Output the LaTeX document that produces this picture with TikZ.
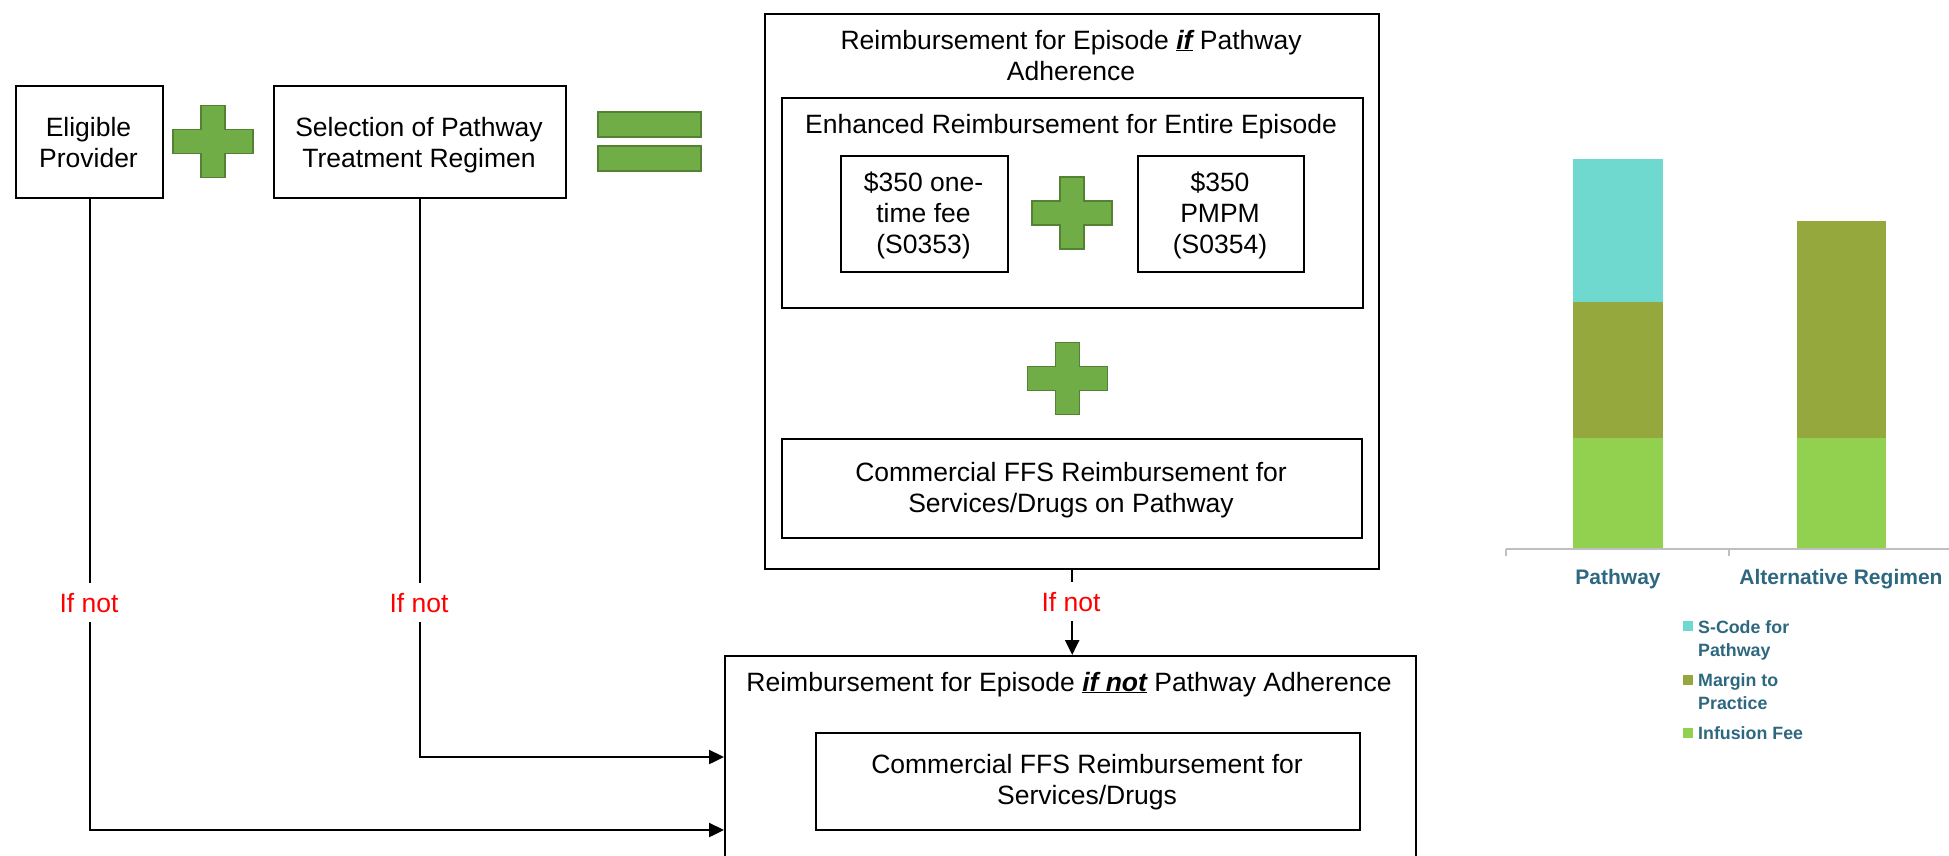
\documentclass[tikz,border=0pt]{standalone}
\usepackage{fontspec}
\setmainfont{Liberation Sans}
\usetikzlibrary{arrows.meta}
\definecolor{plusfill}{RGB}{112,173,71}
\definecolor{plusline}{RGB}{84,130,53}
\definecolor{barcyan}{RGB}{111,216,207}
\definecolor{barolive}{RGB}{149,168,61}
\definecolor{bargreen}{RGB}{146,208,80}
\definecolor{charttext}{RGB}{46,104,128}
\definecolor{axisgray}{RGB}{191,191,191}
\definecolor{ifred}{RGB}{255,0,0}
\newcommand\mainsize{\fontsize{26.5}{31}\selectfont}
\newcommand\chartsize{\fontsize{21}{25}\selectfont\bfseries}
\newcommand\legsize{\fontsize{17.8}{23}\selectfont\bfseries}
\newcommand\stack[1]{\begin{tabular}[t]{@{}c@{}}#1\end{tabular}}
\newcommand\lstack[1]{\begin{tabular}[t]{@{}l@{}}#1\end{tabular}}
\tikzset{
  box/.style={draw, line width=2.4pt, inner sep=0pt, anchor=north west},
  lbl/.style={font=\mainsize, anchor=base, inner sep=0pt},
  ifnot/.style={font=\mainsize, text=ifred, fill=white, anchor=base, inner xsep=4pt, inner ysep=10pt},
  conn/.style={line width=2.4pt, -{Triangle[length=15pt,width=14pt]}},
  plussign/.pic={\filldraw[fill=plusfill, draw=plusline, line width=1.5pt]
     (-12,-36) -- (12,-36) -- (12,-12) -- (40,-12) -- (40,12) -- (12,12) -- (12,36)
     -- (-12,36) -- (-12,12) -- (-40,12) -- (-40,-12) -- (-12,-12) -- cycle;},
  eqbar/.style={fill=plusfill, draw=plusline, line width=1.5pt},
  chartlbl/.style={font=\chartsize, text=charttext, anchor=base, inner sep=0pt},
  legtxt/.style={font=\legsize, text=charttext, anchor=base west, inner sep=0pt},
}
\begin{document}
\begin{tikzpicture}[x=1pt,y=-1pt]
\useasboundingbox (0,0) rectangle (1949,855);
\clip (0,0) rectangle (1949,855);

% left boxes
\node[box, minimum width=147pt, minimum height=112pt] (elig) at (15,85) {};
\node[lbl] (eligt) at (88.5,136) {\stack{Eligible\\Provider}};
\node[box, minimum width=292pt, minimum height=112pt] (sel) at (273,85) {};
\node[lbl] (selt) at (419,136) {\stack{Selection of Pathway\\Treatment Regimen}};
\pic at (213,141.5) {plussign};
\draw[eqbar] (598,112) rectangle (701,137);
\draw[eqbar] (598,146) rectangle (701,171);

% top right big box
\node[box, minimum width=614pt, minimum height=555pt] (top) at (764,13) {};
\node[lbl] (toptitle) at (1071,49) {\stack{Reimbursement for Episode \textbf{\textit{\underline{if}}} Pathway\\Adherence}};
\node[box, minimum width=581pt, minimum height=210pt] (enh) at (781,97) {};
\node[lbl] (enhtitle) at (1071,133) {Enhanced Reimbursement for Entire Episode};
\node[box, minimum width=167pt, minimum height=116pt] (fee1) at (840,155) {};
\node[lbl] (fee1t) at (923.5,191) {\stack{\$350 one-\\time fee\\(S0353)}};
\node[box, minimum width=166pt, minimum height=116pt] (fee2) at (1137,155) {};
\node[lbl] (fee2t) at (1220,191) {\stack{\$350\\PMPM\\(S0354)}};
\pic at (1072,213) {plussign};
\pic at (1067.5,378.5) {plussign};
\node[box, minimum width=580pt, minimum height=99pt] (ffs1) at (781,438) {};
\node[lbl] (ffs1t) at (1071,481) {\stack{Commercial FFS Reimbursement for\\Services/Drugs on Pathway}};

% bottom box
\node[box, minimum width=691pt, minimum height=240pt] (bot) at (724,655) {};
\node[lbl] (bottitle) at (1069,691) {Reimbursement for Episode \textbf{\textit{\underline{if not}}} Pathway Adherence};
\node[box, minimum width=544pt, minimum height=97pt] (ffs2) at (815,732) {};
\node[lbl] (ffs2t) at (1087,773) {\stack{Commercial FFS Reimbursement for\\Services/Drugs}};

% connectors
\coordinate (rowA) at (0,757);
\coordinate (rowB) at (0,830);
\draw[conn] (sel.south) |- (bot.west |- rowA);
\draw[conn] (elig.south) |- (bot.west |- rowB);
\draw[conn] (top.south) -- (top.south |- bot.north);
\node[ifnot] (if1) at (89,612) {If not};
\node[ifnot] (if2) at (419,612) {If not};
\node[ifnot] (if3) at (1071,611) {If not};

% chart
\fill[bargreen] (1573,438) rectangle (1663,549);
\fill[barolive] (1573,302) rectangle (1663,438);
\fill[barcyan] (1573,159) rectangle (1663,302);
\fill[bargreen] (1797,438) rectangle (1886,549);
\fill[barolive] (1797,221) rectangle (1886,438);
\draw[axisgray, line width=1.5pt] (1506,549) -- (1949,549);
\draw[axisgray, line width=1.5pt] (1506,549) -- (1506,556);
\draw[axisgray, line width=1.5pt] (1729,549) -- (1729,556);
\node[chartlbl] (cl1) at (1618,584) {Pathway};
\node[chartlbl] (cl2) at (1841,584) {Alternative Regimen};

% legend
\fill[barcyan] (1683,621) rectangle (1693,631);
\fill[barolive] (1683,675) rectangle (1693,685);
\fill[bargreen] (1683,728) rectangle (1693,738);
\node[legtxt] (lg1) at (1698,633) {\lstack{S-Code for\\Pathway}};
\node[legtxt] (lg2) at (1698,686) {\lstack{Margin to\\Practice}};
\node[legtxt] (lg3) at (1698,739) {Infusion Fee};
\end{tikzpicture}
\end{document}
